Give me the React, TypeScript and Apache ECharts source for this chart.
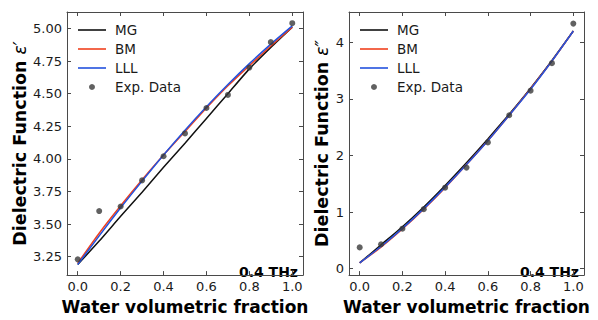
import React, { useEffect, useRef } from "react";
import * as echarts from "echarts";

const waterFraction = [0, 0.1, 0.2, 0.3, 0.4, 0.5, 0.6, 0.7, 0.8, 0.9, 1.0];

// real part ε'
const realMG = [3.19, 3.37, 3.56, 3.745, 3.935, 4.12, 4.31, 4.5, 4.69, 4.855, 5.01];
const realBM = [3.2, 3.43, 3.64, 3.84, 4.03, 4.21, 4.39, 4.56, 4.715, 4.865, 5.01];
const realLLL = [3.19, 3.41, 3.625, 3.83, 4.03, 4.22, 4.4, 4.57, 4.73, 4.88, 5.02];
const realExp = [3.23, 3.6, 3.635, 3.835, 4.02, 4.195, 4.39, 4.49, 4.7, 4.895, 5.04];

// imaginary part ε''
const imagMG = [0.1, 0.42, 0.74, 1.09, 1.47, 1.87, 2.29, 2.73, 3.19, 3.68, 4.2];
const imagBM = [0.1, 0.38, 0.7, 1.05, 1.43, 1.84, 2.26, 2.71, 3.18, 3.67, 4.2];
const imagLLL = [0.1, 0.39, 0.71, 1.06, 1.44, 1.84, 2.26, 2.71, 3.17, 3.67, 4.2];
const imagExp = [0.375, 0.43, 0.705, 1.05, 1.43, 1.785, 2.23, 2.71, 3.145, 3.63, 4.33];

const xTicks = [0, 0.2, 0.4, 0.6, 0.8, 1.0];
const yTicksReal = [3.25, 3.5, 3.75, 4.0, 4.25, 4.5, 4.75, 5.0];
const yTicksImag = [0, 1, 2, 3, 4];

const seriesNames = ["MG", "BM", "LLL", "Exp. Data"];
const freqLabel = "0.4 THz";

const FONT = "DejaVu Sans";
const FRAME = "#4a4a4a";
const TXT = "#1a1a1a";
const C_MG = "#111111";
const C_BM = "#f0401e";
const C_LLL = "#2352de";
const C_EXP = "#3a3a3a";

const LINE_ICON = "path://M0,0L28,0L28,1.6L0,1.6Z";

const pairs = (ys: number[]) => waterFraction.map((x, i) => [x, ys[i]]);

function xAxesFor(gridIndex: number) {
  const common = {
    type: "value",
    gridIndex,
    min: -0.05,
    max: 1.05,
    splitLine: { show: false },
    axisLine: { show: true, onZero: false, lineStyle: { color: FRAME, width: 1 } },
    axisTick: { show: true, inside: true, length: 4, customValues: xTicks, lineStyle: { color: FRAME } },
  };
  return [
    {
      ...common,
      position: "bottom",
      axisLabel: {
        customValues: xTicks,
        formatter: (v: number) => v.toFixed(1),
        fontSize: 13,
        color: TXT,
        fontFamily: FONT,
        margin: 5,
      },
      name: "Water volumetric fraction",
      nameLocation: "middle",
      nameGap: 19,
      nameTextStyle: { fontWeight: "bold", fontSize: 17, color: "#000", fontFamily: FONT, verticalAlign: "top" },
    },
    { ...common, position: "top", axisLabel: { show: false } },
  ];
}

function yAxesFor(gridIndex: number, min: number, max: number, ticks: number[], digits: number, symbol: string, nameGap: number) {
  const common = {
    type: "value",
    gridIndex,
    min,
    max,
    splitLine: { show: false },
    axisLine: { show: true, onZero: false, lineStyle: { color: FRAME, width: 1 } },
    axisTick: { show: true, inside: true, length: 4, customValues: ticks, lineStyle: { color: FRAME } },
  };
  return [
    {
      ...common,
      position: "left",
      axisLabel: {
        customValues: ticks,
        formatter: (v: number) => v.toFixed(digits),
        fontSize: 13,
        color: TXT,
        fontFamily: FONT,
        margin: 5,
      },
      name: "{a|Dielectric Function }{b|ε" + symbol + "}",
      nameLocation: "middle",
      nameGap,
      nameRotate: 90,
      nameTextStyle: {
        color: "#000",
        rich: {
          a: { fontWeight: "bold", fontSize: 17.5, fontFamily: FONT, color: "#000" },
          b: { fontStyle: "italic", fontSize: 17, fontFamily: FONT, color: "#000" },
        },
      },
    },
    { ...common, position: "right", axisLabel: { show: false } },
  ];
}

function panelSeries(xi: number, yi: number, mg: number[], bm: number[], lll: number[], exp: number[]) {
  const line = (name: string, data: number[], color: string) => ({
    name,
    type: "line",
    xAxisIndex: xi,
    yAxisIndex: yi,
    data: pairs(data),
    symbol: "none",
    smooth: 0.2,
    lineStyle: { color, width: 1.5 },
    itemStyle: { color },
    z: 2,
  });
  return [
    line(seriesNames[0], mg, C_MG),
    line(seriesNames[1], bm, C_BM),
    line(seriesNames[2], lll, C_LLL),
    {
      name: seriesNames[3],
      type: "scatter",
      xAxisIndex: xi,
      yAxisIndex: yi,
      data: pairs(exp),
      symbol: "circle",
      symbolSize: 6,
      itemStyle: { color: C_EXP },
      z: 3,
    },
  ];
}

function legendFor(left: number) {
  return {
    orient: "vertical",
    left,
    top: 23,
    padding: 0,
    itemWidth: 28,
    itemHeight: 6,
    itemGap: 5,
    textStyle: { fontSize: 13.5, color: TXT, fontFamily: FONT, padding: [0, 0, 0, 4] },
    data: seriesNames.map((n) =>
      n === "Exp. Data" ? { name: n, icon: "circle" } : { name: n, icon: LINE_ICON }
    ),
    selectedMode: false,
  };
}

export default function App() {
  const ref = useRef<HTMLDivElement>(null);
  useEffect(() => {
    if (!ref.current) return;
    const chart = echarts.init(ref.current, undefined, { renderer: "svg" });
    const option = {
      animation: false,
      backgroundColor: "#ffffff",
      grid: [
        { left: 67, top: 12, width: 236, height: 271 },
        { left: 349, top: 12, width: 235, height: 272 },
      ],
      xAxis: [...xAxesFor(0), ...xAxesFor(1)],
      yAxis: [
        ...yAxesFor(0, 3.109, 5.126, yTicksReal, 2, "′", 38),
        ...yAxesFor(1, -0.115, 4.535, yTicksImag, 0, "″", 18),
      ],
      legend: [legendFor(78), legendFor(360)],
      series: [
        ...panelSeries(0, 0, realMG, realBM, realLLL, realExp),
        ...panelSeries(2, 2, imagMG, imagBM, imagLLL, imagExp),
      ],
      graphic: [
        {
          type: "text",
          right: 598 - 298,
          top: 265,
          style: { text: freqLabel, fontSize: 14, fontWeight: "bold", fontFamily: FONT, fill: "#000" },
        },
        {
          type: "text",
          right: 598 - 579,
          top: 265,
          style: { text: freqLabel, fontSize: 14, fontWeight: "bold", fontFamily: FONT, fill: "#000" },
        },
      ],
    };
    chart.setOption(option as any);
    return () => chart.dispose();
  }, []);
  return <div ref={ref} style={{ width: 598, height: 320, position: "absolute", left: 0, top: 0 }} />;
}
